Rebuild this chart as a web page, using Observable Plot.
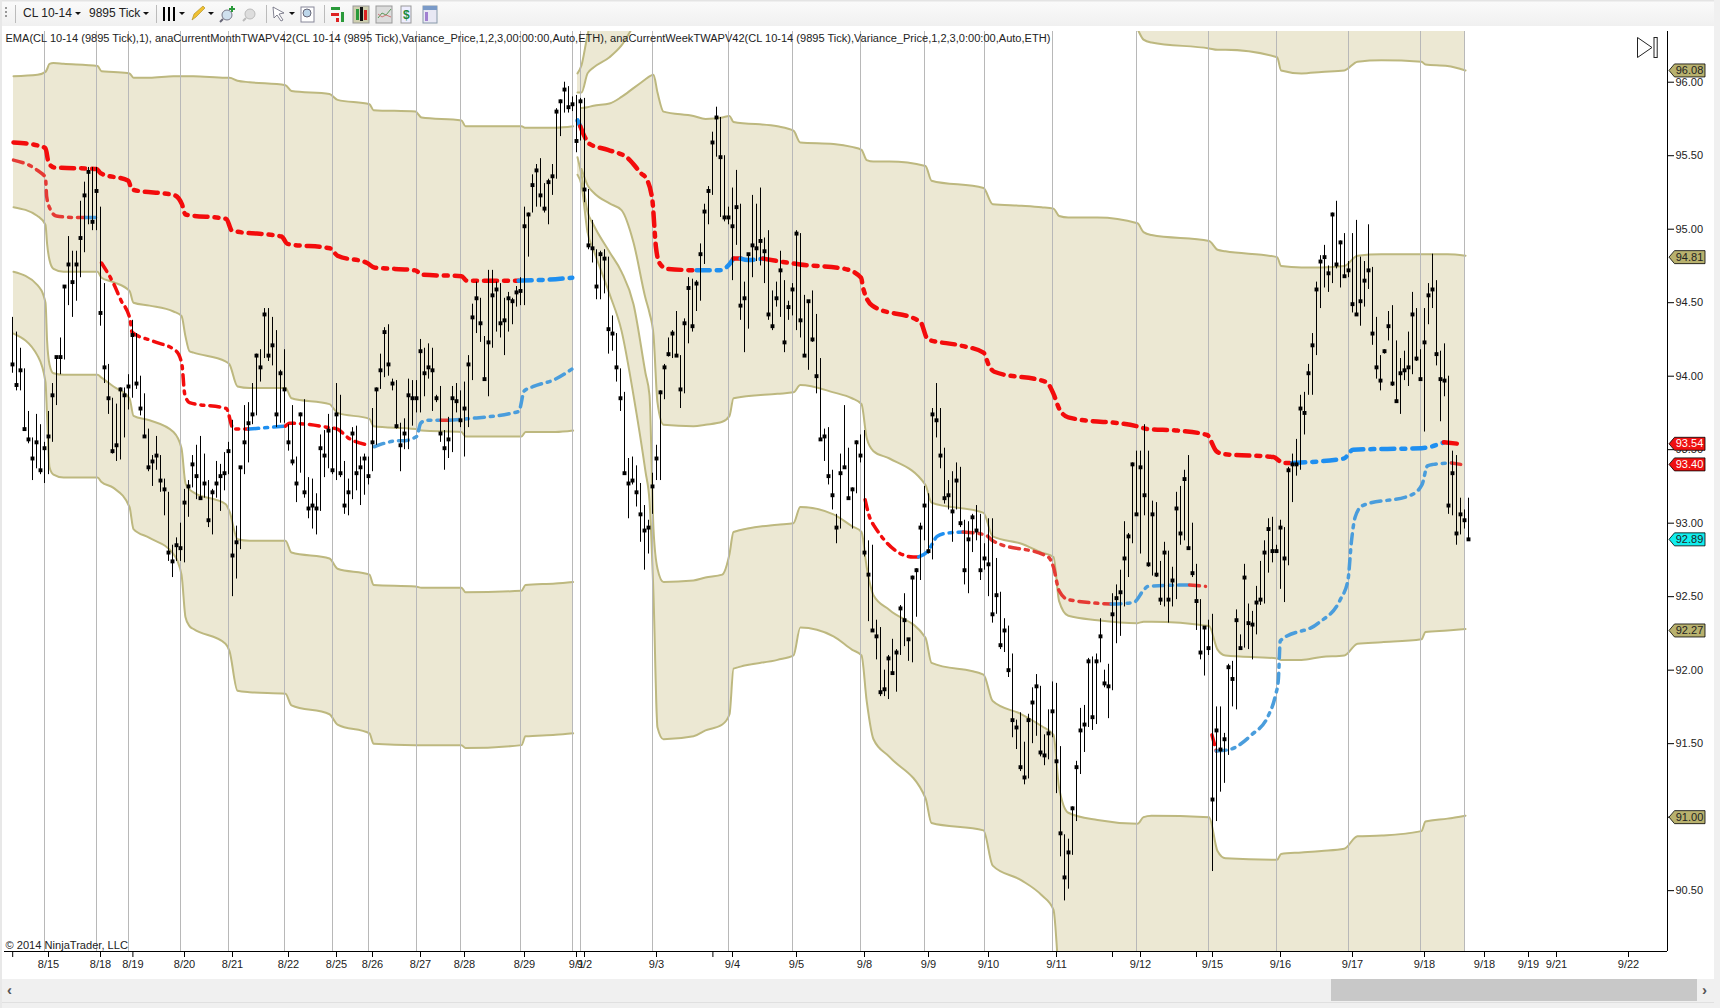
<!DOCTYPE html>
<html>
<head>
<meta charset="utf-8">
<style>
html,body{margin:0;padding:0;background:#fff;overflow:hidden}
#page{position:relative;width:1720px;height:1008px;overflow:hidden;font-family:"Liberation Sans",Arial,sans-serif}
#toolbar{position:absolute;left:0;top:0;width:1720px;height:26px;background:linear-gradient(#e4e4e4 0,#e4e4e4 1px,#fafafa 2px,#f0f0f0 100%)}
#toolbar span{position:absolute;top:6px;font-size:12px;color:#222;white-space:nowrap}
#chart{position:absolute;left:0;top:26px}
#chart svg{display:block;overflow:visible}
#scroll{position:absolute;left:0;top:979px;width:1720px;height:23px;background:#f0f0f0}
#thumb{position:absolute;left:1331px;top:0;width:366px;height:22px;background:#c8c8c8}
#foot{position:absolute;left:0;top:1002px;width:1720px;height:6px;background:#f0f0f0;border-top:1px solid #e0e0e0;box-sizing:border-box}
#lb{position:absolute;left:0;top:0;width:2px;height:1008px;background:#e8e8e8}
#rb{position:absolute;left:1714px;top:0;width:6px;height:1008px;background:#f0f0f0}
.arrow{position:absolute;top:2px;font:bold 15px "Liberation Sans";color:#555}
#end{position:absolute;left:1637px;top:37px}
</style>
<script src="https://cdn.jsdelivr.net/npm/d3@7"></script>
<script src="https://cdn.jsdelivr.net/npm/@observablehq/plot@0.6"></script>
</head>
<body>
<div id="page">
  <div id="toolbar">
    <svg width="470" height="26" style="position:absolute;left:0;top:0">
      <g fill="#999"><rect x="5" y="7" width="2" height="2"/><rect x="5" y="11" width="2" height="2"/><rect x="5" y="15" width="2" height="2"/></g>
      <g stroke="#bbb"><line x1="15.5" y1="5" x2="15.5" y2="23"/><line x1="156.5" y1="5" x2="156.5" y2="23"/><line x1="266.5" y1="5" x2="266.5" y2="23"/><line x1="324.5" y1="5" x2="324.5" y2="23"/></g>
      <g fill="#111"><path d="M75 12h6l-3 3z"/><path d="M143 12h6l-3 3z"/><path d="M179 12h6l-3 3z"/><path d="M208 12h6l-3 3z"/><path d="M289 12h6l-3 3z"/></g>
      <g fill="#000"><rect x="163" y="7" width="2" height="14"/><rect x="168" y="7" width="2" height="14"/><rect x="173" y="7" width="2" height="14"/></g>
      <path d="M192 20l2-6 9-8 2 2-9 9z" fill="#f0c030" stroke="#a88a20" stroke-width=".6"/>
      <circle cx="227" cy="15" r="5" fill="#cfe0ee" stroke="#778"/><line x1="223" y1="19" x2="220" y2="22" stroke="#667" stroke-width="2"/><path d="M232 6v6M229 9h6" stroke="#2a9a3a" stroke-width="2"/>
      <circle cx="250" cy="14" r="5" fill="#ddd" stroke="#bbb"/><line x1="246" y1="18" x2="243" y2="21" stroke="#bbb" stroke-width="2"/>
      <path d="M273 7l11 6-5 1 4 6-2 1-4-6-3 3z" fill="#fff" stroke="#667" stroke-width=".8"/>
      <rect x="301" y="7" width="13" height="15" fill="#fff" stroke="#889"/><circle cx="307" cy="13" r="4" fill="#bcd6ea" stroke="#667"/>
      <g><rect x="331" y="7" width="9" height="3" fill="#2a9a3a"/><rect x="331" y="13" width="8" height="3" fill="#d22"/><rect x="341" y="12" width="3" height="10" fill="#2a9a3a"/><rect x="336" y="18" width="3" height="4" fill="#d22"/></g>
      <g><rect x="353" y="6" width="16" height="17" fill="#cfcfb0" stroke="#999"/><rect x="356" y="9" width="3" height="11" fill="#2a9a3a"/><rect x="360" y="7" width="3" height="14" fill="#111"/><rect x="364" y="10" width="3" height="10" fill="#d22"/></g>
      <g><rect x="376" y="6" width="16" height="17" fill="#dcdcdc" stroke="#999"/><path d="M378 18l4-5 4 2 5-6" fill="none" stroke="#5a9a5a"/><path d="M378 14l4 3 4-2 5 2" fill="none" stroke="#c77"/></g>
      <g><rect x="401" y="6" width="10" height="17" fill="#eef" stroke="#999"/><text x="403" y="19" font-size="12" font-weight="bold" fill="#1a8a3a">$</text></g>
      <g><rect x="423" y="6" width="14" height="17" fill="#e8e8f4" stroke="#89a"/><rect x="423" y="6" width="14" height="4" fill="#7a9ac8"/><rect x="425" y="12" width="3" height="9" fill="#a080d0"/></g>
    </svg>
    <span style="left:23px">CL 10-14</span>
    <span style="left:89px">9895 Tick</span>
  </div>
  <div id="chart"></div>
  <svg id="end" width="22" height="21"><path d="M.5 .5L15 10.5 .5 20.5z" fill="#fff" stroke="#222"/><rect x="17" y=".5" width="3.2" height="20" fill="#fff" stroke="#222"/></svg>
  <div id="scroll"><div id="thumb"></div><span class="arrow" style="left:7px">&#8249;</span><span class="arrow" style="left:1702px">&#8250;</span></div>
  <div id="foot"></div>
  <div id="lb"></div>
  <div id="rb"></div>
</div>
<script>
// ---------- price bars, one entry per bar ----------
const barHigh = [
94.40,94.30,94.19,94.05,93.76,93.58,93.74,93.67,93.55,93.76,
93.95,94.13,94.26,94.61,94.95,94.85,94.85,95.19,95.32,95.42,
95.42,95.42,95.15,94.63,94.08,93.85,93.81,93.92,93.92,94.01,
94.38,94.29,94.00,93.88,93.64,93.46,93.59,93.46,93.30,93.21,
92.85,92.90,93.00,93.23,93.29,93.46,93.53,93.59,93.47,93.29,
93.23,93.42,93.40,93.48,93.55,93.70,92.98,93.38,93.80,93.82,
93.95,94.15,94.18,94.46,94.46,94.40,94.31,94.04,94.18,93.67,
93.80,93.45,93.75,93.84,93.31,93.30,93.20,93.60,93.63,93.74,
93.65,93.95,93.87,93.42,93.30,93.65,93.66,93.45,93.47,93.45,
93.78,93.92,94.15,94.33,94.35,93.98,93.97,93.68,93.71,93.98,
93.97,93.97,94.25,94.19,94.22,94.19,93.87,93.93,93.63,93.72,
93.93,93.95,93.90,93.96,94.14,94.49,94.64,94.53,94.27,94.72,
94.72,94.64,94.63,94.53,94.57,94.53,94.61,94.67,95.15,95.11,
95.37,95.44,95.48,95.31,95.34,95.44,95.82,95.88,96.00,95.97,
95.90,95.91,95.89,95.89,95.27,95.06,94.86,94.85,94.86,94.81,
94.41,94.29,94.05,93.89,93.44,93.45,93.39,93.27,93.12,93.02,
93.34,93.53,93.90,94.08,94.26,94.31,94.44,94.14,94.39,94.67,
94.66,94.65,94.90,95.17,95.29,95.66,95.83,95.76,95.50,95.15,
95.28,95.40,95.17,94.64,94.83,95.23,95.17,95.28,94.94,94.99,
94.58,94.64,94.85,94.65,94.51,94.63,94.99,94.97,94.55,94.51,
94.58,94.42,94.12,93.64,93.65,93.36,93.06,93.47,93.80,93.51,
93.24,93.56,93.60,93.63,92.88,92.85,92.34,92.29,92.00,92.10,
92.21,92.14,92.44,92.52,92.21,92.64,92.69,93.00,93.25,93.20,
93.78,93.95,93.78,93.51,93.29,93.35,93.41,93.38,93.02,93.01,
93.06,93.12,93.06,92.86,93.03,93.03,92.76,92.53,92.35,92.30,
92.11,91.66,91.71,91.51,91.70,91.88,91.97,91.89,91.56,91.73,
91.92,91.91,91.48,90.88,90.85,91.07,91.38,91.74,91.76,92.08,
92.09,92.11,92.35,92.00,92.04,92.52,92.58,92.68,93.01,92.93,
93.41,93.49,93.49,93.67,93.49,93.15,93.14,92.74,92.87,92.81,
92.70,93.21,93.25,93.36,93.46,93.00,92.72,92.48,92.29,92.34,
92.38,91.75,91.75,91.57,92.04,92.06,92.41,92.24,92.72,92.45,
92.40,92.57,92.74,92.88,93.03,93.04,92.85,93.02,92.97,93.38,
93.47,93.57,93.87,93.89,94.08,94.29,94.64,94.82,94.89,94.75,
95.11,95.19,94.92,94.97,94.78,94.97,95.06,94.81,94.78,95.03,
94.74,94.40,94.14,94.18,94.44,94.48,94.24,94.12,94.17,94.30,
94.57,94.46,94.18,94.46,94.63,94.83,94.65,94.17,94.22,94.00,
93.49,93.46,93.17,93.09,93.17];
const barLow = [
94.02,93.90,93.90,93.63,93.54,93.29,93.37,93.33,93.27,93.33,
93.55,93.80,94.01,94.11,94.48,94.40,94.51,94.67,94.84,95.03,
94.99,94.99,94.34,93.95,93.74,93.47,93.42,93.43,93.58,93.77,
93.85,93.91,93.73,93.59,93.35,93.25,93.36,93.21,93.05,92.74,
92.63,92.74,92.74,92.73,93.04,93.24,93.16,93.16,93.17,92.97,
92.92,93.17,93.08,93.22,93.33,92.50,92.62,92.82,93.33,93.41,
93.67,93.73,93.96,94.12,94.10,94.07,93.65,93.68,93.68,93.49,
93.39,93.14,93.34,93.17,93.03,92.96,92.92,93.08,93.31,93.37,
93.33,93.29,93.31,93.06,93.05,93.16,93.22,93.12,93.19,93.26,
93.35,93.53,93.91,93.99,94.00,93.90,93.64,93.35,93.50,93.50,
93.66,93.75,93.75,93.86,93.98,93.76,93.82,93.55,93.36,93.44,
93.48,93.75,93.65,93.45,93.65,93.97,94.29,94.23,93.97,93.86,
94.19,94.30,94.26,94.14,94.30,94.35,94.47,94.48,94.48,94.81,
95.11,95.15,95.15,95.11,95.03,95.23,95.34,95.63,95.79,95.79,
95.80,95.52,95.60,95.18,94.86,94.77,94.52,94.52,94.56,94.15,
94.17,93.96,93.76,93.33,93.03,93.26,93.11,92.87,92.68,92.79,
93.06,93.29,93.29,93.84,94.13,94.12,94.13,93.78,93.88,94.22,
94.30,94.44,94.51,94.76,95.03,95.23,95.49,95.08,95.05,95.03,
94.65,94.89,94.38,94.16,94.32,94.67,94.78,94.75,94.63,94.38,
94.31,94.47,94.40,94.16,94.38,94.41,94.31,94.26,94.13,94.04,
94.23,93.88,93.57,93.42,93.26,93.09,92.86,92.96,93.37,93.16,
92.96,93.20,93.41,92.77,92.33,92.27,92.07,91.82,91.82,91.80,
91.97,91.85,92.10,92.16,92.06,92.05,92.36,92.61,92.88,92.79,
92.75,93.58,93.37,93.13,93.09,92.87,93.09,92.97,92.58,92.52,
92.80,92.88,92.61,92.68,92.50,92.32,92.38,92.14,92.12,91.95,
91.54,91.46,91.31,91.22,91.26,91.50,91.55,91.41,91.35,91.39,
91.54,91.16,90.73,90.43,90.51,90.74,90.97,91.29,91.44,91.61,
91.59,91.63,92.05,91.88,91.67,91.86,92.18,92.23,92.43,92.63,
92.86,93.05,92.79,93.05,92.70,92.64,92.63,92.44,92.43,92.32,
92.43,92.48,92.85,92.88,92.82,92.63,92.27,92.07,91.96,92.10,
90.63,90.97,91.17,91.23,91.42,91.75,91.73,92.14,92.15,92.14,
92.07,92.24,92.44,92.45,92.66,92.73,92.80,92.55,92.46,92.71,
93.14,93.32,93.36,93.60,93.87,93.87,94.14,94.46,94.60,94.57,
94.63,94.73,94.60,94.67,94.67,94.43,94.41,94.34,94.47,94.59,
94.21,93.98,93.90,94.15,94.24,93.93,93.82,93.74,93.97,93.93,
94.01,94.10,93.98,93.62,94.35,94.46,94.07,93.69,93.86,93.06,
93.05,92.85,92.92,92.96,92.88];
const barClose = [
94.08,93.94,94.04,93.64,93.57,93.44,93.55,93.36,93.51,93.59,
93.87,94.13,94.13,94.61,94.76,94.64,94.76,94.94,95.23,95.39,
95.05,95.26,94.43,94.06,93.85,93.49,93.53,93.91,93.87,93.93,
94.28,93.95,93.78,93.59,93.38,93.42,93.46,93.29,93.23,92.80,
92.74,92.85,92.83,93.14,93.25,93.40,93.32,93.17,93.27,93.02,
93.21,93.27,93.32,93.34,93.49,92.78,92.87,93.38,93.55,93.68,
93.74,94.14,94.06,94.42,94.14,94.21,93.74,94.02,93.91,93.55,
93.42,93.27,93.74,93.21,93.10,93.12,93.10,93.51,93.46,93.63,
93.36,93.74,93.34,93.12,93.21,93.61,93.34,93.38,93.44,93.32,
93.55,93.91,94.04,94.30,94.08,93.95,93.66,93.53,93.61,93.87,
93.85,93.85,94.17,94.02,94.06,94.04,93.85,93.61,93.51,93.57,
93.85,93.83,93.70,93.78,94.08,94.40,94.53,94.36,93.98,94.23,
94.55,94.59,94.36,94.38,94.53,94.51,94.57,94.58,95.02,95.10,
95.30,95.40,95.23,95.14,95.32,95.36,95.80,95.87,95.95,95.83,
95.85,95.60,95.87,95.27,94.89,94.87,94.61,94.83,94.80,94.32,
94.29,94.06,93.85,93.34,93.27,93.29,93.21,93.06,92.95,92.97,
93.25,93.44,93.89,94.06,94.15,94.29,94.14,93.91,94.36,94.60,
94.34,94.63,94.83,95.12,95.26,95.59,95.76,95.49,95.08,95.08,
95.02,95.15,94.48,94.53,94.83,94.89,94.87,94.92,94.85,94.42,
94.34,94.53,94.72,94.23,94.47,94.59,94.97,94.38,94.14,94.51,
94.25,94.00,93.57,93.59,93.32,93.19,92.97,93.34,93.38,93.17,
93.23,93.55,93.46,92.80,92.65,92.27,92.23,91.85,91.87,92.08,
91.98,92.12,92.42,92.34,92.21,92.63,92.68,92.97,93.12,92.81,
93.74,93.70,93.46,93.17,93.19,93.08,93.29,93.00,92.68,92.89,
93.04,92.95,92.68,92.76,92.72,92.38,92.51,92.17,92.27,92.00,
91.66,91.61,91.34,91.27,91.66,91.78,91.89,91.44,91.42,91.57,
91.72,91.38,90.89,90.59,90.76,91.06,91.34,91.59,91.63,92.06,
91.68,92.06,92.23,91.91,91.89,92.38,92.49,92.53,92.76,92.91,
93.40,93.06,93.38,93.19,92.72,93.06,92.65,92.48,92.80,92.48,
92.61,93.10,92.93,93.30,92.83,92.66,92.47,92.12,92.29,92.15,
91.12,91.59,91.46,91.53,92.02,91.94,92.34,92.15,92.63,92.32,
92.31,92.46,92.48,92.80,92.96,92.81,92.81,92.97,92.76,93.36,
93.40,93.40,93.78,93.75,94.02,94.21,94.59,94.78,94.81,94.70,
95.10,94.76,94.91,94.68,94.72,94.49,94.42,94.51,94.65,94.72,
94.29,94.06,93.97,94.17,94.34,93.95,93.83,94.02,94.04,94.06,
94.42,94.12,93.98,94.23,94.55,94.59,94.15,93.98,93.97,93.12,
93.34,92.93,93.06,93.02,92.89];

// ---------- August monthly variance bands ----------
const augKnots = [0,6,8,8.4,9,10,12.5,21,22,25,29,30,34,40,42,43,44,45,53,54,56,59,68,69.5,79,81,89,90,100.5,102,112,113,127,128,135.5,139.9];
const augPlus1 = [96.04,96.05,96.07,96.09,96.125,96.13,96.125,96.11,96.075,96.07,96.06,96.03,96.03,96.04,96.04,96.04,96.04,96.04,96.03,96.03,96.01,96.00,95.98,95.94,95.92,95.88,95.85,95.81,95.80,95.76,95.74,95.70,95.70,95.69,95.69,95.70];
const augMinus1 = [95.15,95.09,95.03,94.90,94.79,94.73,94.71,94.71,94.67,94.64,94.58,94.50,94.48,94.44,94.41,94.27,94.17,94.16,94.10,94.08,93.93,93.92,93.92,93.85,93.81,93.75,93.71,93.66,93.64,93.63,93.62,93.59,93.59,93.62,93.62,93.63];
const augMinus2 = [94.71,94.62,94.50,94.24,94.08,94.02,94.01,94.01,93.99,93.93,93.85,93.73,93.70,93.62,93.51,93.27,93.23,93.21,93.13,93.08,92.89,92.88,92.88,92.80,92.76,92.69,92.65,92.58,92.57,92.56,92.56,92.53,92.54,92.58,92.59,92.60];
const augMinus3 = [94.29,94.14,93.96,93.72,93.38,93.33,93.31,93.31,93.28,93.24,93.11,92.96,92.90,92.79,92.65,92.36,92.30,92.28,92.18,92.13,91.86,91.85,91.84,91.76,91.70,91.63,91.57,91.50,91.49,91.49,91.49,91.47,91.49,91.55,91.56,91.57];

// ---------- September monthly variance bands ----------
const sepKnots = [141,142,143.5,145,149,152,155,158,159,160,161,162.5,170,173,177.2,179,180,191,195,196.7,205,209.6,212,213.3,215,219,228,229.5,242.5,244.8,252,257,260,261.4,263.7,271,281,282.5,284.5,298.9,301,303,315.9,316.9,322,327,332.7,336,342,352,353,358.5,363];
const sepPlus3 = [96.06,96.115,96.32,96.48,97,97,97,97,97,97,97,97,97,97,97,97,97,97,97,97,97,97,97,97,97,97,97,97,97,97,97,97,97,97,97,97,97,97,97,97,97,97,97,97,97,97,97,97,97,97,97,97,97];
const sepPlus2 = [95.93,95.93,96.06,96.10,96.17,96.25,96.38,96.48,96.5,96.5,96.5,96.5,96.6,96.6,96.6,96.6,96.6,96.6,96.6,96.6,96.6,96.6,96.6,96.6,96.6,96.6,96.6,96.6,96.6,96.6,96.6,96.6,96.6,96.6,96.6,96.6,96.36,96.29,96.27,96.23,96.22,96.22,96.17,96.08,96.06,96.07,96.08,96.14,96.15,96.14,96.12,96.11,96.08];
const sepPlus1 = [NaN,95.825,95.83,95.84,95.855,95.90,95.96,96.02,96.04,96.05,95.93,95.80,95.77,95.75,95.76,95.77,95.73,95.70,95.67,95.59,95.58,95.56,95.54,95.47,95.46,95.46,95.43,95.33,95.28,95.17,95.16,95.15,95.14,95.09,95.08,95.08,95.04,94.98,94.96,94.92,94.86,94.85,94.81,94.75,94.74,94.74,94.75,94.82,94.83,94.83,94.83,94.83,94.82];
const sepMinus1 = [NaN,95.41,95.30,95.25,95.175,95.13,94.91,94.53,94.43,94.28,93.82,93.67,93.66,93.67,93.69,93.73,93.85,93.88,93.89,93.94,93.89,93.85,93.81,93.58,93.49,93.44,93.26,93.14,93.07,92.91,92.86,92.80,92.77,92.47,92.37,92.34,92.32,92.33,92.33,92.30,92.14,92.10,92.08,92.07,92.07,92.09,92.10,92.18,92.19,92.21,92.26,92.27,92.28];
const sepMinus2 = [95.49,95.37,95.12,95.03,94.845,94.71,94.49,94.02,93.87,92.96,92.69,92.60,92.61,92.63,92.65,92.79,92.94,92.99,93.00,93.11,93.06,92.98,92.94,92.70,92.51,92.41,92.22,92.05,91.97,91.79,91.70,91.62,91.56,91.20,91.03,90.98,90.955,91.00,91.01,91.00,90.77,90.72,90.71,90.75,90.76,90.77,90.785,90.87,90.875,90.905,90.97,90.99,91.01];
const sepMinus3 = [95.37,95.30,94.98,94.86,94.56,94.31,93.87,93.35,93.15,92.51,91.61,91.53,91.55,91.59,91.63,91.70,92.01,92.07,92.10,92.29,92.23,92.14,92.10,91.79,91.53,91.41,91.13,90.96,90.91,90.67,90.57,90.47,90.37,89.9,89.5,89,89,89,89,89,89,89,89,89,89,89,89,89,89,89,89,89,89];

// ---------- monthly TWAP, [bar, price] ----------
const monthRed1 = [[0,95.59],[6,95.57],[8,95.55],[8.8,95.45],[10.2,95.42],[20.8,95.41],[21.8,95.38],[28.7,95.33],[29.6,95.27],[40.3,95.23],[42.1,95.17],[43,95.10],[53.2,95.07],[54.6,94.99],[67,94.95],[68.5,94.90],[79.1,94.87],[81,94.82],[88.4,94.77],[90.2,94.74],[100.4,94.72],[102.2,94.69],[112,94.68],[113.3,94.65],[126.3,94.65]];
const monthBlue1 = [[126.3,94.65],[135.5,94.66],[139.7,94.67]];
const monthBlue2 = [[141,95.74],[141.7,95.70]];
const monthRed2 = [[141.7,95.70],[142.6,95.64],[144,95.58],[148.6,95.54],[153.7,95.48],[156.9,95.38],[158.3,95.34],[159.7,95.20],[160.6,94.88],[161.5,94.77],[163.4,94.73],[170.8,94.72]];
const monthBlue3 = [[170.8,94.72],[176.3,94.72],[178.6,94.75],[180,94.80]];
const monthRed3 = [[180,94.80],[181.8,94.80]];
const monthBlue4 = [[181.8,94.80],[183.7,94.79],[187.4,94.80]];
const monthRed4 = [[187.4,94.80],[196.7,94.76],[207.8,94.73],[211.9,94.67],[212.4,94.60],[214.7,94.48],[226.7,94.37],[228.6,94.25],[236.5,94.21],[242.5,94.16],[243.9,94.07],[245.2,94.03],[258.2,93.96],[260,93.88],[261.4,93.78],[263.7,93.72],[280.8,93.66],[283.6,93.64],[291,93.63],[298.4,93.60],[300.7,93.49],[302.6,93.47],[315,93.45],[317.4,93.41],[319.7,93.41]];
const monthBlue5 = [[319.7,93.41],[332.6,93.44],[334.9,93.50],[352,93.51],[357.6,93.55]];
const monthRed5 = [[357.6,93.55],[361.3,93.54]];

// ---------- weekly TWAP, [bar, price] ----------
const weekRed1 = [[0,95.47],[6,95.40],[8,95.35],[8.3,95.22],[9.3,95.13],[10.7,95.09],[15.3,95.08],[18,95.08]];
const weekBlue1 = [[18,95.08],[20.6,95.08]];
const weekRed2 = [[22,94.77],[25,94.63],[26.8,94.52],[29.2,94.38],[29.6,94.30],[34.7,94.24],[40.7,94.17],[42.1,94.08],[42.8,93.88],[44,93.82],[53.2,93.78],[55,93.64],[58.8,93.64]];
const weekBlue2 = [[58.8,93.64],[68,93.66]];
const weekRed3 = [[68,93.66],[69,93.68],[79,93.65],[81,93.64],[83.7,93.58],[89,93.53]];
const weekBlue3 = [[90.2,93.52],[96.2,93.56],[97.2,93.56],[100.8,93.59],[101.8,93.68],[103.2,93.70],[106.9,93.70]];
const weekRed4 = [[106.9,93.70],[109,93.70]];
const weekBlue4 = [[109,93.70],[113.3,93.71],[126.3,93.76],[127.7,93.90],[130,93.93],[135.5,93.98],[139.7,94.05]];
const weekRed5 = [[212.9,93.16],[213.8,93.06],[215.2,92.98],[224.9,92.77],[226.3,92.77]];
const weekBlue5 = [[226.3,92.77],[228.6,92.81],[230.9,92.91],[232.8,92.93],[237.4,92.94]];
const weekRed6 = [[237.4,92.94],[243,92.92],[244.8,92.88],[258.7,92.77],[260,92.70],[261.4,92.54],[263.7,92.48],[274.4,92.45]];
const weekBlue6 = [[274.4,92.45],[280,92.46],[282.7,92.55],[283.6,92.57],[294,92.58]];
const weekRed7 = [[294,92.58],[298,92.57]];
const weekRed8 = [[299.6,91.56],[300.7,91.45]];
const weekBlue7 = [[300.7,91.45],[304,91.46],[309.5,91.56],[313.7,91.69],[315.5,91.83],[316.2,91.93],[316.7,92.20],[326.2,92.32],[331.7,92.48],[333.6,92.61],[334.5,92.88],[335.4,93.04],[337.3,93.12],[349.3,93.19],[352.1,93.26],[353.5,93.39],[355,93.40],[359.5,93.41]];
const weekRed9 = [[359.5,93.41],[361.8,93.40]];

// ---------- session separators, axis ticks and labels ----------
const sessionBars = [8,21,29,42,54,68,80,89,101,112,127,140,142,160,179,195,212,228,243,260,281,299,316,334,352,363];
const xTickBars = [-0.2,8.75,21.75,29.85,42.75,54.75,68.75,80.75,89.75,101.75,112.75,127.75,140.75,142.75,160.75,174.85,179.75,195.75,212.75,228.75,243.75,260.75,274.75,281.75,295.75,299.75,316.75,334.75,352.75,367.75,378.75,385.75,403.75];
const xTickLabels = ["","8/15","8/18","8/19","8/20","8/21","8/22","8/25","8/26","8/27","8/28","8/29","9/1","9/2","9/3","","9/4","9/5","9/8","9/9","9/10","9/11","","9/12","","9/15","9/16","9/17","9/18","9/18","9/19","9/21","9/22"];
const yTicks = [90.5,91,91.5,92,92.5,93,93.5,94,94.5,95,95.5,96];
const tagPrices = [96.08,94.81,93.54,93.40,92.89,92.27,91.00];
const tagFills = ["#b8b16e","#b8b16e","#ee1111","#ee1111","#11eeee","#b8b16e","#b8b16e"];
const tagInks = ["#222","#222","#fff","#fff","#222","#222","#222"];
const indicatorText = "EMA(CL 10-14 (9895 Tick),1), anaCurrentMonthTWAPV42(CL 10-14 (9895 Tick),Variance_Price,1,2,3,00:00:00,Auto,ETH), anaCurrentWeekTWAPV42(CL 10-14 (9895 Tick),Variance_Price,1,2,3,0:00:00,Auto,ETH)";
const copyrightText = "\u00A9 2014 NinjaTrader, LLC";

// ---------- tables built from the arrays ----------
const bars = barClose.map((c,i)=>({i,high:barHigh[i],low:barLow[i],close:c}));
const table = (knots,cols)=>knots.map((k,j)=>{const o={k};for(const n in cols)o[n]=cols[n][j];return o;});
const aug = table(augKnots,{p1:augPlus1,m1:augMinus1,m2:augMinus2,m3:augMinus3});
const sep = table(sepKnots,{p3:sepPlus3,p2:sepPlus2,p1:sepPlus1,m1:sepMinus1,m2:sepMinus2,m3:sepMinus3});
const BAND="#ece8d3", EDGE="#bdb87f", RED="#f30c0c", BLUE="#1f8ff0", PRED="#e53a34", PBLUE="#4a9ddc";
const area=(data,a,b)=>Plot.areaY(data,{x:"k",y1:d=>d[a],y2:d=>d[b],fill:BAND,curve:"monotone-x",clip:true});
const edge=(data,a)=>Plot.line(data,{x:"k",y:d=>d[a],stroke:EDGE,strokeWidth:2,curve:"monotone-x",clip:true});
const dash=(pts,color,w,pattern)=>Plot.line(pts,{x:d=>d[0],y:d=>d[1],stroke:color,strokeWidth:w,strokeDasharray:pattern,curve:"monotone-x",clip:true});
const M="13 7 4 7", W="10 6 3 6";
const tagSymbol={draw(c){c.moveTo(1.5,0);c.lineTo(7,-6.5);c.lineTo(37.5,-6.5);c.lineTo(37.5,6.5);c.lineTo(7,6.5);c.closePath();}};
const tags=tagPrices.map((p,j)=>({p,fill:tagFills[j],ink:tagInks[j]}));
const labelFor=new Map(xTickBars.map((b,j)=>[b,xTickLabels[j]]));

const chart = Plot.plot({
  width:1720,height:953,marginLeft:0,marginRight:53,marginTop:5,marginBottom:28,
  style:{fontFamily:"'Liberation Sans',Arial,sans-serif",fontSize:"11px",color:"#222",background:"transparent"},
  x:{domain:[-3.25,413.5],axis:null},
  y:{domain:[90.086,96.345],axis:null},
  marks:[
    area(aug,"p1","m1"),area(aug,"m2","m3"),
    area(sep,"p3","p2"),area(sep,"p1","m1"),area(sep,"m2","m3"),
    edge(aug,"p1"),edge(aug,"m1"),edge(aug,"m2"),edge(aug,"m3"),
    edge(sep,"p3"),edge(sep,"p2"),edge(sep,"p1"),edge(sep,"m1"),edge(sep,"m2"),edge(sep,"m3"),
    Plot.ruleX(sessionBars,{x:d=>d-0.25,stroke:"#b8b8b8",strokeWidth:1}),
    dash(weekRed1,PRED,3.5,W),dash(weekBlue1,PBLUE,3.5,W),
    dash(weekRed2,RED,3.5,W),dash(weekBlue2,BLUE,3.5,W),dash(weekRed3,RED,3.5,W),
    dash(weekBlue3,PBLUE,3.5,W),dash(weekRed4,PRED,3.5,W),dash(weekBlue4,PBLUE,3.5,W),
    dash(weekRed5,RED,3.5,W),dash(weekBlue5,BLUE,3.5,W),dash(weekRed6,PRED,3.5,W),
    dash(weekBlue6,PBLUE,3.5,W),dash(weekRed7,PRED,3.5,W),
    dash(weekRed8,RED,3.5,W),dash(weekBlue7,PBLUE,3.5,W),dash(weekRed9,PRED,3.5,W),
    dash(monthRed1,RED,4.5,M),dash(monthBlue1,BLUE,4.5,M),
    dash(monthBlue2,BLUE,4.5,M),dash(monthRed2,RED,4.5,M),dash(monthBlue3,BLUE,4.5,M),
    dash(monthRed3,RED,4.5,M),dash(monthBlue4,BLUE,4.5,M),dash(monthRed4,RED,4.5,M),
    dash(monthBlue5,BLUE,4.5,M),dash(monthRed5,RED,4.5,M),
    Plot.ruleX(bars,{x:"i",y1:"low",y2:"high",stroke:"#000",strokeWidth:1,dx:-1}),
    Plot.dot(bars,{x:"i",y:"close",symbol:"square",r:2.2,fill:"#000",dx:-1}),
    Plot.ruleX([413.5],{stroke:"#000",strokeWidth:1}),
    Plot.ruleY([90.086],{x1:-2.25,x2:413.5,stroke:"#000",strokeWidth:1.2}),
    Plot.axisY({anchor:"right",ticks:yTicks,tickFormat:d=>d.toFixed(2),tickSize:6,tickPadding:2,label:null,stroke:"#000",fill:"#222"}),
    Plot.axisX({anchor:"bottom",ticks:xTickBars,tickFormat:b=>labelFor.get(b),tickSize:6,tickPadding:3,label:null,stroke:"#000",fill:"#222"}),
    Plot.dot(tags,{y:"p",frameAnchor:"right",r:1,symbol:tagSymbol,fill:"fill",stroke:"#000",strokeWidth:0.8}),
    Plot.text(tags,{y:"p",frameAnchor:"right",dx:22,text:d=>d.p.toFixed(2),fill:"ink",textAnchor:"middle",fontSize:11}),
    Plot.text([indicatorText],{text:d=>d,frameAnchor:"top-left",dx:5,dy:3,fontSize:11.05,fill:"#222"}),
    Plot.text([copyrightText],{text:d=>d,frameAnchor:"bottom-left",dx:5,dy:-3,fontSize:11.1,fill:"#222"})
  ]
});
document.getElementById("chart").appendChild(chart);
</script>
</body>
</html>
